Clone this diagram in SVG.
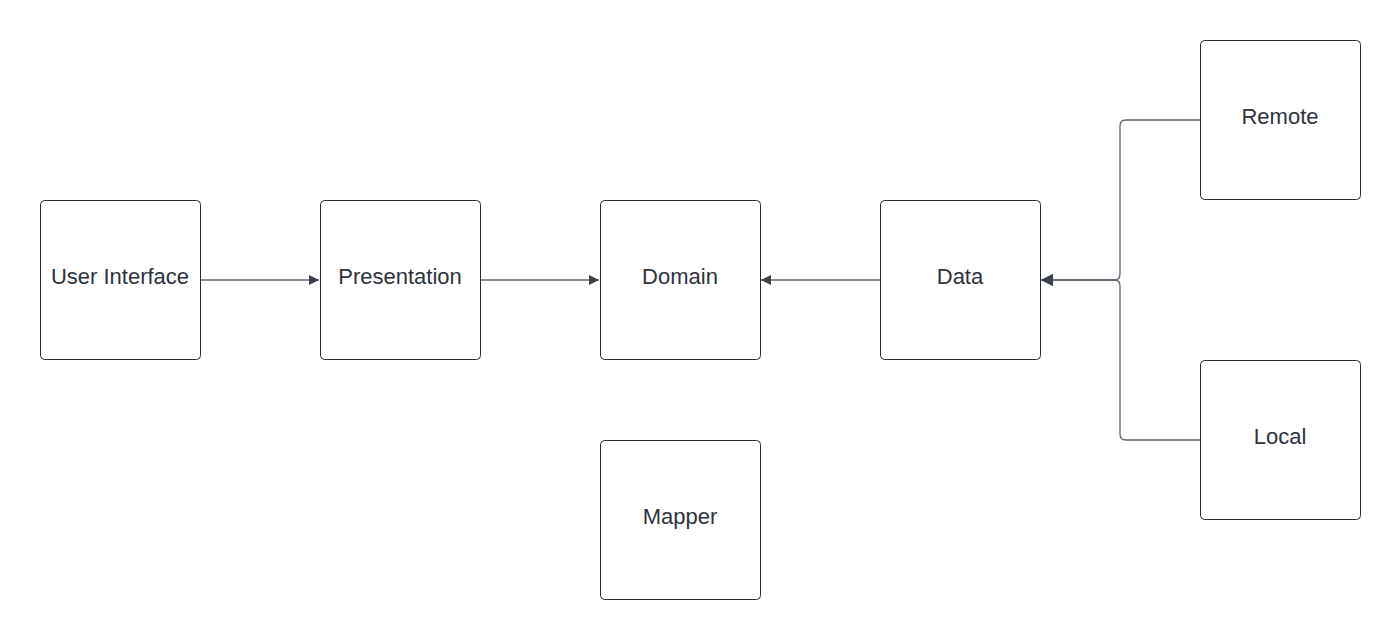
<svg xmlns="http://www.w3.org/2000/svg" width="1400" height="640" viewBox="0 0 1400 640">
<style>
.box{fill:#fff;stroke:#282c33;stroke-width:1}
.lbl{font-family:"Liberation Sans",Arial,sans-serif;font-size:22px;fill:#2e333b;text-anchor:middle;dominant-baseline:central}
.con{fill:none;stroke:#5e6470;stroke-width:1.3}
</style>
<defs>
<marker id="ah" viewBox="0 0 10 10" refX="10" refY="5" markerWidth="15" markerHeight="10" markerUnits="userSpaceOnUse" orient="auto">
<path d="M0,0 L10,5 L0,10 z" fill="#3a414a"/>
</marker>
<marker id="ahb" viewBox="0 0 10 10" refX="10" refY="5" markerWidth="16" markerHeight="12" markerUnits="userSpaceOnUse" orient="auto">
<path d="M0,0 L10,5 L0,10 z" fill="#3a414a"/>
</marker>
</defs>
<rect width="1400" height="640" fill="#fff"/>
<g id="connectors">
<path class="con" d="M200,280 L319,280" marker-end="url(#ah)"/>
<path class="con" d="M480,280 L599,280" marker-end="url(#ah)"/>
<path class="con" d="M880,280 L761,280" marker-end="url(#ah)"/>
<path class="con" d="M1200,120 L1126,120 Q1120,120 1120,126 L1120,274 Q1120,280 1114,280 L1041,280" marker-end="url(#ahb)"/>
<path class="con" d="M1200,440 L1126,440 Q1120,440 1120,434 L1120,286 Q1120,280 1114,280 L1041,280" marker-end="url(#ahb)"/>
</g>
<g id="user-interface"><rect class="box" x="40.5" y="200.5" width="160" height="159" rx="4"/><text class="lbl" x="120" y="276">User Interface</text></g>
<g id="presentation"><rect class="box" x="320.5" y="200.5" width="160" height="159" rx="4"/><text class="lbl" x="400" y="276">Presentation</text></g>
<g id="domain"><rect class="box" x="600.5" y="200.5" width="160" height="159" rx="4"/><text class="lbl" x="680" y="276">Domain</text></g>
<g id="data"><rect class="box" x="880.5" y="200.5" width="160" height="159" rx="4"/><text class="lbl" x="960" y="276">Data</text></g>
<g id="remote"><rect class="box" x="1200.5" y="40.5" width="160" height="159" rx="4"/><text class="lbl" x="1280" y="116">Remote</text></g>
<g id="local"><rect class="box" x="1200.5" y="360.5" width="160" height="159" rx="4"/><text class="lbl" x="1280" y="436">Local</text></g>
<g id="mapper"><rect class="box" x="600.5" y="440.5" width="160" height="159" rx="4"/><text class="lbl" x="680" y="516">Mapper</text></g>
</svg>
